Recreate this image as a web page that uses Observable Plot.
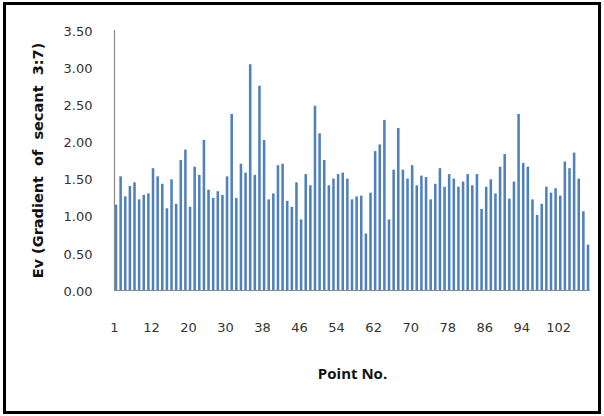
<!DOCTYPE html>
<html>
<head>
<meta charset="utf-8">
<script src="https://cdn.jsdelivr.net/npm/d3@7"></script>
<script src="https://cdn.jsdelivr.net/npm/@observablehq/plot@0.6"></script>
<style>
  html, body { margin: 0; padding: 0; background: #fff; }
  #wrap { position: relative; width: 604px; height: 416px; }
  #wrap svg { position: absolute; left: 0; top: 0; }
  #border { position: absolute; left: 3px; top: 2px; width: 598px; height: 412px;
            border: 3px solid #000; box-sizing: border-box; pointer-events: none; }
</style>
</head>
<body>
<div id="wrap"><div id="border"></div></div>
<script>
// Ev values, one per bar (103 bars)
const values = [
  1.15, 1.53, 1.26, 1.40, 1.45, 1.22, 1.28, 1.30, 1.64, 1.53,
  1.43, 1.10, 1.49, 1.16, 1.75, 1.89, 1.12, 1.66, 1.55, 2.02,
  1.35, 1.24, 1.33, 1.28, 1.53, 2.37, 1.24, 1.70, 1.58, 3.04,
  1.55, 2.75, 2.02, 1.22, 1.30, 1.68, 1.70, 1.20, 1.12, 1.45,
  0.95, 1.56, 1.41, 2.48, 2.11, 1.75, 1.41, 1.50, 1.56, 1.58,
  1.50, 1.22, 1.26, 1.27, 0.76, 1.31, 1.87, 1.96, 2.29, 0.95,
  1.62, 2.18, 1.62, 1.50, 1.68, 1.41, 1.54, 1.52, 1.22, 1.43,
  1.64, 1.39, 1.56, 1.50, 1.39, 1.46, 1.56, 1.41, 1.56, 1.09,
  1.39, 1.49, 1.30, 1.66, 1.83, 1.23, 1.46, 2.37, 1.71, 1.66,
  1.22, 1.01, 1.16, 1.39, 1.31, 1.37, 1.27, 1.73, 1.64, 1.85,
  1.50, 1.06, 0.61
];
const categories = values.map((_, i) => i + 1);
const tickPositions = [1, 9, 17, 25, 33, 41, 49, 57, 65, 73, 81, 89, 97];
const tickLabels = ["1", "12", "20", "30", "38", "46", "54", "62", "70", "78", "86", "94", "102"];
const yTicks = [0, 0.5, 1, 1.5, 2, 2.5, 3, 3.5];
const xTitle = "Point No.";
const yTitle = "Ev (Gradient\u00a0 of\u00a0 secant\u00a0 3:7)";

const data = categories.map((c, i) => ({c, v: values[i]}));

const chart = Plot.plot({
  width: 604,
  height: 416,
  marginLeft: 114,
  marginRight: 14,
  marginTop: 30,
  marginBottom: 126,
  style: {fontFamily: "DejaVu Sans", fontSize: "13px", color: "#333", background: "transparent", overflow: "visible"},
  x: {type: "band", domain: categories, paddingInner: 0.45, paddingOuter: 0.157, axis: null},
  y: {domain: [0, 3.5], axis: null},
  marks: [
    Plot.barY(data, {x: "c", y: "v", fill: "#4F81BD"}),
    Plot.ruleY([0], {stroke: "#8a8a8a", strokeWidth: 1.2}),
    Plot.ruleX([categories[0]], {dx: -2, y1: 0, y2: 3.5, stroke: "#8a8a8a", strokeWidth: 1.2}),
    Plot.axisY({ticks: yTicks, tickFormat: d => d.toFixed(2), tickSize: 0, tickPadding: 22, label: null, fontSize: 13, dy: 1}),
    Plot.axisX({ticks: tickPositions, tickFormat: d => tickLabels[tickPositions.indexOf(d)], tickSize: 0, tickPadding: 32, label: null, fontSize: 13, dx: -2}),
    Plot.text([xTitle], {text: d => d, frameAnchor: "bottom", textAnchor: "middle", dy: 88, fontFamily: "Open Sans", fontWeight: "bold", fontSize: 15, fill: "#111"}),
    Plot.text([yTitle], {text: d => d, frameAnchor: "left", textAnchor: "middle", lineAnchor: "middle", dx: -76, rotate: -90, fontFamily: "DejaVu Sans", fontWeight: "bold", fontSize: 14.5, fill: "#111"})
  ]
});
document.getElementById("wrap").prepend(chart);
</script>
</body>
</html>
